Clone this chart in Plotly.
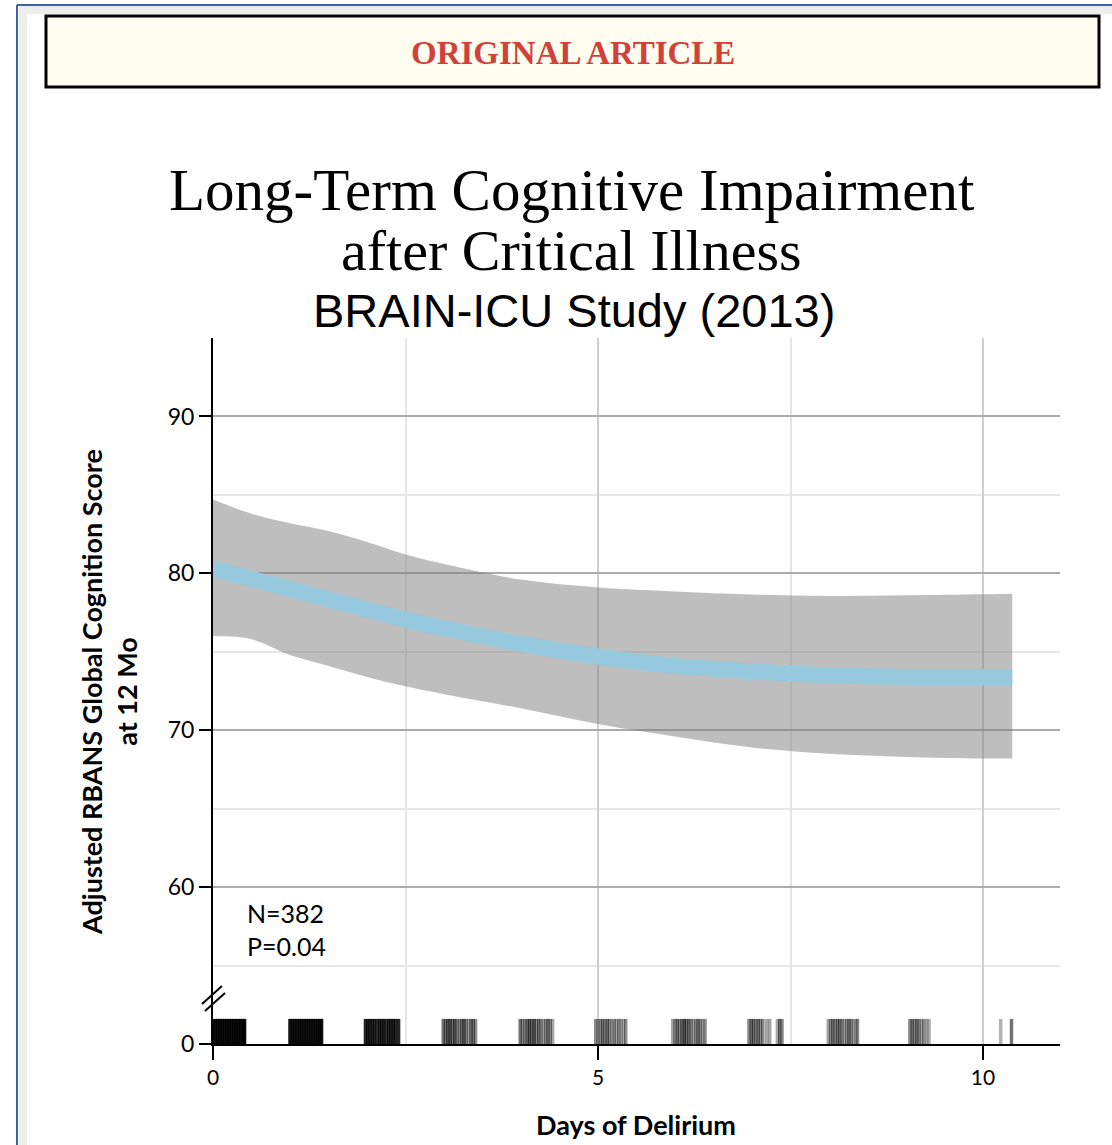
import plotly.graph_objects as go

# ---------------- data ----------------
days = [0, 0.5, 1, 1.5, 2, 2.5, 3, 4, 5, 6, 7, 8, 9, 10, 10.38]
mean_score = [80.3, 79.65, 79.0, 78.35, 77.7, 77.05, 76.5, 75.5, 74.7, 74.1, 73.75, 73.5, 73.4, 73.4, 73.4]
upper_ci = [84.7, 83.8, 83.2, 82.7, 82.0, 81.2, 80.6, 79.6, 79.1, 78.85, 78.65, 78.55, 78.6, 78.67, 78.7]
lower_ci = [76.0, 75.8, 74.8, 74.1, 73.4, 72.8, 72.3, 71.4, 70.4, 69.6, 68.9, 68.5, 68.3, 68.2, 68.2]

# rug of individual patients' delirium days (jittered) and line darkness
rug_days = [
    0.00, 0.03, 0.06, 0.09, 0.12, 0.15, 0.18, 0.21, 0.24, 0.27, 0.30, 0.33, 0.36, 0.39, 0.41,
    1.00, 1.03, 1.06, 1.09, 1.12, 1.15, 1.18, 1.21, 1.24, 1.27, 1.30, 1.33, 1.36, 1.39, 1.41,
    1.98, 2.01, 2.04, 2.07, 2.10, 2.13, 2.16, 2.19, 2.22, 2.25, 2.28, 2.31, 2.34, 2.37, 2.41,
    2.99, 3.02, 3.05, 3.08, 3.11, 3.14, 3.17, 3.20, 3.23, 3.26, 3.29, 3.32, 3.35, 3.38, 3.41,
    3.99, 4.02, 4.05, 4.08, 4.11, 4.14, 4.17, 4.20, 4.23, 4.26, 4.29, 4.32, 4.35, 4.38, 4.41,
    4.97, 5.00, 5.03, 5.06, 5.09, 5.12, 5.15, 5.18, 5.21, 5.24, 5.27, 5.30, 5.33, 5.36,
    5.97, 6.00, 6.03, 6.06, 6.09, 6.12, 6.15, 6.18, 6.21, 6.24, 6.27, 6.30, 6.33, 6.36, 6.39,
    6.96, 6.99, 7.02, 7.05, 7.08, 7.11, 7.14, 7.19, 7.23, 7.33, 7.36, 7.39,
    7.99, 8.02, 8.05, 8.08, 8.11, 8.14, 8.17, 8.20, 8.23, 8.26, 8.29, 8.32, 8.35, 8.37,
    9.05, 9.08, 9.11, 9.14, 9.17, 9.20, 9.23, 9.27, 9.30,
    10.23, 10.37,
]
rug_alpha = [
    0.95, 0.95, 0.95, 0.95, 0.95, 0.95, 0.95, 0.95, 0.95, 0.95, 0.95, 0.95, 0.95, 0.95, 0.95,
    0.92, 0.92, 0.92, 0.92, 0.92, 0.92, 0.92, 0.92, 0.92, 0.92, 0.92, 0.92, 0.92, 0.92, 0.92,
    0.85, 0.85, 0.85, 0.85, 0.85, 0.75, 0.85, 0.85, 0.85, 0.75, 0.85, 0.85, 0.85, 0.85, 0.85,
    0.55, 0.55, 0.65, 0.65, 0.55, 0.65, 0.45, 0.45, 0.55, 0.65, 0.45, 0.35, 0.55, 0.55, 0.45,
    0.55, 0.45, 0.45, 0.55, 0.65, 0.55, 0.65, 0.45, 0.55, 0.45, 0.35, 0.45, 0.55, 0.45, 0.35,
    0.45, 0.35, 0.45, 0.55, 0.45, 0.55, 0.45, 0.35, 0.45, 0.35, 0.45, 0.35, 0.35, 0.45,
    0.35, 0.45, 0.55, 0.45, 0.55, 0.65, 0.55, 0.55, 0.45, 0.35, 0.45, 0.55, 0.45, 0.35, 0.45,
    0.45, 0.55, 0.55, 0.45, 0.55, 0.45, 0.45, 0.35, 0.35, 0.35, 0.55, 0.45,
    0.35, 0.45, 0.55, 0.45, 0.55, 0.55, 0.45, 0.35, 0.45, 0.55, 0.45, 0.35, 0.35, 0.45,
    0.45, 0.55, 0.45, 0.55, 0.45, 0.35, 0.45, 0.35, 0.30,
    0.30, 0.55,
]

y_tickvals = [50, 60, 70, 80, 90]
y_ticktext = ["0", "60", "70", "80", "90"]
x_tickvals = [0, 5, 10]
x_ticktext = ["0", "5", "10"]

# ---------------- layout helpers ----------------
W, H = 1112, 1145
L, R, T, B = 213, 52, 338, 101
PW, PH = W - L - R, H - T - B


def px(x):
    return (x - L) / PW


def py(y):
    return (H - B - y) / PH


SANS = "Lato, 'Open Sans', 'DejaVu Sans', sans-serif"
SERIF = "'Liberation Serif', 'DejaVu Serif', serif"
RUG_LOW, RUG_HIGH = 50, 51.6

fig = go.Figure()

# confidence band
fig.add_trace(go.Scatter(x=days, y=lower_ci, mode="lines", line=dict(width=0, color="rgba(0,0,0,0)"),
                         line_shape="spline", showlegend=False, hoverinfo="skip"))
fig.add_trace(go.Scatter(x=days, y=upper_ci, mode="lines", line=dict(width=0, color="rgba(0,0,0,0)"),
                         line_shape="spline", fill="tonexty", fillcolor="rgba(125,125,125,0.5)",
                         showlegend=False, hoverinfo="skip"))
# mean curve
fig.add_trace(go.Scatter(x=days, y=mean_score, mode="lines", line=dict(width=16, color="#96C9DD"),
                         line_shape="spline", showlegend=False))

# rug, grouped by darkness
for a in sorted(set(rug_alpha)):
    xs, ys = [], []
    for d, al in zip(rug_days, rug_alpha):
        if al == a:
            xs += [d, d, None]
            ys += [RUG_LOW, RUG_HIGH, None]
    fig.add_trace(go.Scatter(x=xs, y=ys, mode="lines", line=dict(width=3.5, color=f"rgba(0,0,0,{a})"),
                             showlegend=False, hoverinfo="skip"))

shapes = [
    # page frame
    dict(type="line", xref="paper", yref="paper", x0=px(17), x1=px(17), y0=py(5), y1=py(1160),
         line=dict(color="#3D63AE", width=2), layer="below"),
    dict(type="line", xref="paper", yref="paper", x0=px(17), x1=px(1120), y0=py(5), y1=py(5),
         line=dict(color="#3D63AE", width=2), layer="below"),
    dict(type="line", xref="paper", yref="paper", x0=px(23), x1=px(23), y0=py(10), y1=py(1160),
         line=dict(color="#ededed", width=8), layer="below"),
    dict(type="line", xref="paper", yref="paper", x0=px(19), x1=px(1120), y0=py(10), y1=py(10),
         line=dict(color="#ededed", width=8), layer="below"),
    # header box
    dict(type="rect", xref="paper", yref="paper", x0=px(46), x1=px(1099), y0=py(87), y1=py(16),
         fillcolor="#FFFDF0", line=dict(color="black", width=3)),
    # axis break marks
    dict(type="line", xref="paper", yref="paper", x0=px(202), x1=px(222), y0=py(1004), y1=py(986),
         line=dict(color="black", width=2)),
    dict(type="line", xref="paper", yref="paper", x0=px(205), x1=px(225), y0=py(1011), y1=py(993),
         line=dict(color="black", width=2)),
]

annotations = [
    dict(text="<b>ORIGINAL ARTICLE</b>", x=px(573), y=py(53), xref="paper", yref="paper", showarrow=False,
         xanchor="center", yanchor="middle", font=dict(family=SERIF, size=33, color="#D0413A")),
    dict(text="Long-Term Cognitive Impairment", x=px(572), y=py(190), xref="paper", yref="paper",
         showarrow=False, xanchor="center", yanchor="middle", borderpad=0,
         font=dict(family=SERIF, size=59, color="black")),
    dict(text="after Critical Illness", x=px(571), y=py(250), xref="paper", yref="paper",
         showarrow=False, xanchor="center", yanchor="middle", borderpad=0,
         font=dict(family=SERIF, size=58, color="black")),
    dict(text="BRAIN-ICU Study (2013)", x=px(574), y=py(310), xref="paper", yref="paper",
         showarrow=False, xanchor="center", yanchor="middle", borderpad=0,
         font=dict(family="'Liberation Sans', Arial, sans-serif", size=47, color="black")),
    dict(text="<b>Adjusted RBANS Global Cognition Score</b><br><b>at 12 Mo</b>", x=px(109), y=py(692),
         xref="paper", yref="paper", showarrow=False, textangle=-90, xanchor="center", yanchor="middle",
         font=dict(family=SANS, size=27, color="black")),
    dict(text="<b>Days of Delirium</b>", x=px(636), y=py(1124), xref="paper", yref="paper",
         showarrow=False, xanchor="center", yanchor="middle", font=dict(family=SANS, size=27, color="black")),
    dict(text="N=382", x=px(245), y=py(913), xref="paper", yref="paper", showarrow=False,
         xanchor="left", yanchor="middle", font=dict(family=SANS, size=25, color="black")),
    dict(text="P=0.04", x=px(245), y=py(946), xref="paper", yref="paper", showarrow=False,
         xanchor="left", yanchor="middle", font=dict(family=SANS, size=25, color="black")),
]

fig.update_layout(
    width=W, height=H, autosize=False,
    margin=dict(l=L, r=R, t=T, b=B, pad=0),
    paper_bgcolor="white", plot_bgcolor="white",
    showlegend=False,
    shapes=shapes, annotations=annotations,
    xaxis=dict(range=[0, 11], tickmode="array", tickvals=x_tickvals, ticktext=x_ticktext,
               ticks="outside", ticklen=14, tickwidth=2, tickcolor="black",
               showline=True, linecolor="black", linewidth=2, zeroline=False,
               showgrid=True, gridcolor="#cfcfcf", gridwidth=1.5,
               tickfont=dict(family=SANS, size=21, color="black"),
               minor=dict(tickvals=[2.5, 7.5], showgrid=True, gridcolor="#e6e6e6", gridwidth=1.5, ticks="")),
    yaxis=dict(range=[50, 95], tickmode="array", tickvals=y_tickvals, ticktext=y_ticktext,
               ticks="outside", ticklen=12, tickwidth=2, tickcolor="black",
               showline=True, linecolor="black", linewidth=2, zeroline=False,
               showgrid=True, gridcolor="#ababab", gridwidth=1.5,
               tickfont=dict(family=SANS, size=23, color="black"),
               minor=dict(tickvals=[55, 65, 75, 85, 95], showgrid=True, gridcolor="#e6e6e6",
                          gridwidth=1.5, ticks="")),
)

fig.write_html("out.html", config={"displayModeBar": False},
               post_script="document.body.style.margin='0';document.body.style.overflow='hidden';")
